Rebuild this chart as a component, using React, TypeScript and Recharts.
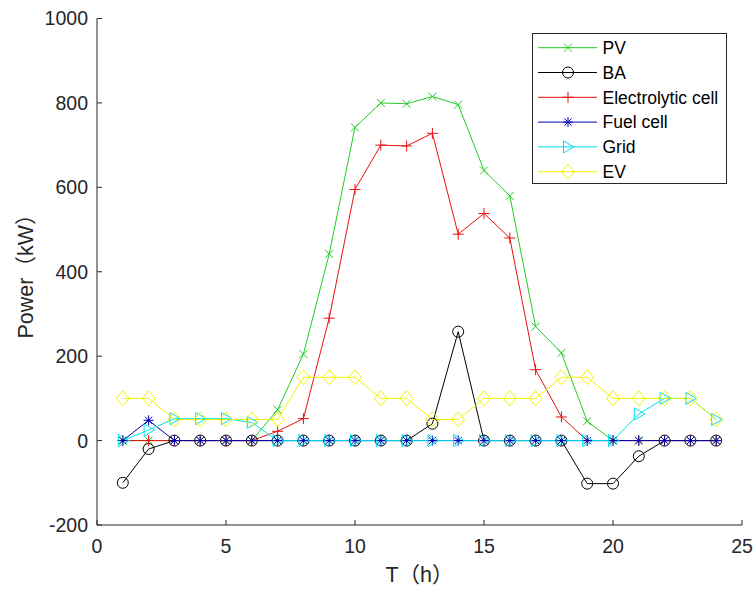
import { LineChart, Line, XAxis, YAxis, Legend } from "recharts";

// hourly dispatch, kW
const hours = [1, 2, 3, 4, 5, 6, 7, 8, 9, 10, 11, 12, 13, 14, 15, 16, 17, 18, 19, 20, 21, 22, 23, 24];
const pv = [0, 0, 0, 0, 0, 0, 73, 205, 442, 742, 800, 798, 815, 796, 640, 580, 270, 208, 46, 0, 0, 0, 0, 0];
const ba = [-100, -20, 0, 0, 0, 0, 0, 0, 0, 0, 0, 0, 40, 258, 0, 0, 0, 0, -102, -102, -37, 0, 0, 0];
const electrolytic = [0, 0, 0, 0, 0, 0, 22, 52, 290, 595, 700, 698, 728, 489, 538, 480, 168, 56, 0, 0, 0, 0, 0, 0];
const fuelCell = [0, 48, 0, 0, 0, 0, 0, 0, 0, 0, 0, 0, 0, 0, 0, 0, 0, 0, 0, 0, 0, 0, 0, 0];
const grid = [0, 25, 52, 52, 52, 43, 0, 0, 0, 0, 0, 0, 0, 0, 0, 0, 0, 0, 0, 0, 63, 100, 100, 50];
const ev = [100, 100, 50, 50, 50, 50, 50, 150, 150, 150, 100, 100, 50, 50, 100, 100, 100, 150, 150, 100, 100, 100, 100, 50];

const xTicks = [0, 5, 10, 15, 20, 25];
const yTicks = [-200, 0, 200, 400, 600, 800, 1000];

const data = hours.map((t, i) => ({
  t,
  pv: pv[i],
  ba: ba[i],
  electrolytic: electrolytic[i],
  fuelCell: fuelCell[i],
  grid: grid[i],
  ev: ev[i],
}));

const series = [
  { key: "pv", name: "PV", color: "#22cc22", shape: "x" },
  { key: "ba", name: "BA", color: "#000000", shape: "o" },
  { key: "electrolytic", name: "Electrolytic cell", color: "#e81010", shape: "+" },
  { key: "fuelCell", name: "Fuel cell", color: "#0000b4", shape: "*" },
  { key: "grid", name: "Grid", color: "#00e0ee", shape: ">" },
  { key: "ev", name: "EV", color: "#f2f200", shape: "d" },
];

const font = "'Liberation Sans', Arial, 'Noto Sans CJK SC', sans-serif";
const axisColor = "#262626";

function Marker({ shape, cx, cy, color }: { shape: string; cx: number; cy: number; color: string }) {
  if (cx == null || cy == null) return null;
  const p = { stroke: color, fill: "none", strokeWidth: 1 };
  switch (shape) {
    case "x":
      return <path {...p} d={`M${cx - 4},${cy - 4}L${cx + 4},${cy + 4}M${cx - 4},${cy + 4}L${cx + 4},${cy - 4}`} />;
    case "o":
      return <circle {...p} cx={cx} cy={cy} r={5.5} />;
    case "+":
      return <path {...p} d={`M${cx - 5.5},${cy}L${cx + 5.5},${cy}M${cx},${cy - 5.5}L${cx},${cy + 5.5}`} />;
    case "*":
      return (
        <path
          {...p}
          d={`M${cx - 5},${cy}L${cx + 5},${cy}M${cx},${cy - 5}L${cx},${cy + 5}M${cx - 3.6},${cy - 3.6}L${cx + 3.6},${cy + 3.6}M${cx - 3.6},${cy + 3.6}L${cx + 3.6},${cy - 3.6}`}
        />
      );
    case ">":
      return <polygon {...p} points={`${cx - 4.5},${cy - 6} ${cx + 6},${cy} ${cx - 4.5},${cy + 6}`} />;
    case "d":
      return <polygon {...p} points={`${cx},${cy - 7.5} ${cx + 6.5},${cy} ${cx},${cy + 7.5} ${cx - 6.5},${cy}`} />;
  }
  return null;
}

function LegendBox() {
  return (
    <svg width={196} height={152} style={{ display: "block", fontFamily: font }}>
      <rect x={0.5} y={0.5} width={194} height={150} fill="#fff" stroke={axisColor} />
      {series.map((s, i) => {
        const y = 14.7 + i * 24.8;
        return (
          <g key={s.key}>
            <line x1={6} x2={65} y1={y} y2={y} stroke={s.color} />
            <Marker shape={s.shape} cx={36} cy={y} color={s.color} />
            <text x={70.5} y={y} dy="0.36em" fontSize={17.5} fill="#000">
              {s.name}
            </text>
          </g>
        );
      })}
    </svg>
  );
}

export default function App() {
  return (
    <div style={{ position: "absolute", left: 0, top: 0, background: "#fff" }}>
      <LineChart
        width={754}
        height={590}
        data={data}
        margin={{ top: 18.5, right: 12, bottom: 0, left: 0 }}
        style={{ fontFamily: font }}
      >
        <XAxis
          dataKey="t"
          type="number"
          domain={[0, 25]}
          ticks={xTicks}
          height={65}
          stroke={axisColor}
          tickSize={-5}
          tickMargin={19}
          tick={{ fontSize: 19.5, fill: axisColor }}
          label={{
            content: () => (
              <text x={419.5} y={582} textAnchor="middle" fontSize={21.5} fill={axisColor} fontFamily={font}>
                T（h）
              </text>
            ),
          }}
        />
        <XAxis
          xAxisId="top"
          orientation="top"
          type="number"
          domain={[0, 25]}
          ticks={xTicks}
          height={0}
          stroke={axisColor}
          tickSize={-5}
          tickFormatter={() => ""}
          allowDataOverflow
        />
        <YAxis
          type="number"
          domain={[-200, 1000]}
          ticks={yTicks}
          width={97}
          stroke={axisColor}
          tickSize={-5}
          tickMargin={14}
          tick={{ fontSize: 19.5, fill: axisColor }}
          label={{
            content: () => (
              <text
                x={33}
                y={271}
                transform="rotate(-90 33 271)"
                textAnchor="middle"
                fontSize={21.5}
                fill={axisColor}
                fontFamily={font}
              >
                Power（kW）
              </text>
            ),
          }}
        />
        <YAxis
          yAxisId="right"
          orientation="right"
          type="number"
          domain={[-200, 1000]}
          ticks={yTicks}
          width={0}
          stroke={axisColor}
          tickSize={-5}
          tickFormatter={() => ""}
          allowDataOverflow
        />
        {series.map((s) => (
          <Line
            key={s.key}
            dataKey={s.key}
            name={s.name}
            type="linear"
            stroke={s.color}
            strokeWidth={1}
            isAnimationActive={false}
            activeDot={false}
            dot={(props: any) => (
              <Marker key={`${s.key}-${props.index}`} shape={s.shape} cx={props.cx} cy={props.cy} color={s.color} />
            )}
          />
        ))}
        <Legend
          layout="vertical"
          align="center"
          verticalAlign="middle"
          content={() => <LegendBox />}
          wrapperStyle={{ left: 532, top: 33, width: 196, height: 152 }}
        />
      </LineChart>
    </div>
  );
}
